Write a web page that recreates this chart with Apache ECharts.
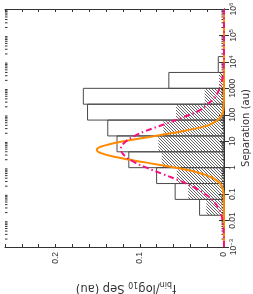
<!DOCTYPE html>
<html><head><meta charset="utf-8">
<script src="https://cdn.jsdelivr.net/npm/echarts@6/dist/echarts.min.js"></script>
<style>html,body{margin:0;padding:0;background:#fff}#c{width:253px;height:294px}</style>
</head><body><div id="c"></div>
<script>
// Histogram bins: log10 separation edges
const binLoLog = [-1.8,-1.2,-0.6,0,0.6,1.2,1.8,2.4,3.0,3.6];
const binHiLog = [-1.2,-0.6,0,0.6,1.2,1.8,2.4,3.0,3.6,4.2];
const allFrac   = [0.029,0.058,0.080,0.113,0.127,0.138,0.162,0.167,0.0655,0.0068];
const hatchFrac = [0.021,0.0425,0.056,0.074,0.078,0.072,0.057,0.023,0.006,0.001];

// Orange solid curve
const orangeLogSep = [-3,-2,-1.2,-1.0,-0.8,-0.6,-0.4,-0.2,0,0.2,0.4,0.55,0.67,0.8,1.0,1.2,1.4,1.6,1.8,2.0,2.2,2.5,3,4,5,6];
const orangeVal    = [0,0,0.0001,0.0004,0.0014,0.0046,0.0126,0.029,0.057,0.0935,0.129,0.146,0.151,0.1456,0.119,0.082,0.046,0.019,0.0075,0.0025,0.0007,0.0001,0,0,0,0];

// Pink dash-dot curve
const pinkLogSep = [-3,-2.5,-2,-1.75,-1.5,-1.25,-1,-0.75,-0.5,-0.25,0,0.2,0.45,0.7,0.95,1.2,1.4,1.65,1.9,2.15,2.4,2.65,2.9,3.4,3.9,4.4,5,6];
const pinkVal    = [0.00004,0.0003,0.0017,0.0035,0.007,0.013,0.022,0.035,0.052,0.072,0.092,0.106,0.118,0.1226,0.118,0.106,0.092,0.070,0.049,0.030,0.0195,0.011,0.0065,0.0017,0.0003,0.00004,0,0];

// Tick labels and titles
const fracTickLabels = {'0':'0','0.1':'0.1','0.2':'0.2'};
const sepTickLabels = {'-3':'{b|10}{s|\u22123}','-2':'0.01','-1':'0.1','0':'1','1':'10','2':'100','3':'1000','4':'{b|10}{s|4}','5':'{b|10}{s|5}','6':'{b|10}{s|6}'};
const sepTitle = 'Separation (au)';
const fracTitle = '{b|f}{s|bin}{b|/log}{s|10}{b| Sep (au)}';

const FONT = 'Liberation Sans, Arial, sans-serif';
const TFONT = 'DejaVu Sans, sans-serif';
const INK = '#333';

// hatch pattern
const pc = document.createElement('canvas'); pc.width = 3; pc.height = 3;
const pctx = pc.getContext('2d'); pctx.fillStyle = '#666';
for (let i = 0; i < 3; i++) pctx.fillRect(i, i, 1, 1);
const hatch = {image: pc, repeat: 'repeat'};

const p10 = v => Math.pow(10, v);
const barData = binLoLog.map((lo, i) => [p10(lo), p10(binHiLog[i]), allFrac[i]]);
const hatchData = binLoLog.map((lo, i) => [p10(lo), p10(binHiLog[i]), hatchFrac[i]]);
const minorData = [];
for (let k = -3; k < 6; k++) for (let m = 2; m <= 9; m++) minorData.push([m * p10(k)]);

function rectItem(fillStyle, strokeStyle) {
  return function (params, api) {
    const a = api.coord([0, api.value(1)]);
    const b = api.coord([api.value(2), api.value(0)]);
    return {type: 'rect', shape: {x: Math.min(a[0], b[0]), y: a[1], width: Math.abs(b[0] - a[0]), height: b[1] - a[1]},
      style: {fill: fillStyle, stroke: strokeStyle, lineWidth: 1}};
  };
}

const chart = echarts.init(document.getElementById('c'));
const xBase = {type: 'value', min: 0, max: 0.26, interval: 0.02, inverse: true,
  axisLine: {lineStyle: {color: INK}}, splitLine: {show: false},
  axisTick: {inside: true, length: 3, lineStyle: {color: INK}}};
const yBase = {type: 'log', logBase: 10, min: 1e-3, max: 1e6, splitNumber: 9,
  axisLine: {lineStyle: {color: INK}}, splitLine: {show: false}, minorTick: {show: false},
  axisTick: {inside: true, length: 5, lineStyle: {color: INK}}};

chart.setOption({
  animation: false,
  grid: {left: 5, top: 9, width: 219, height: 238, containLabel: false, outerBoundsMode: 'none'},
  xAxis: [
    Object.assign({}, xBase, {position: 'bottom',
      axisLabel: {rotate: 90, margin: 5, fontSize: 8.5, fontFamily: FONT, color: INK,
        formatter: v => { const key = String(Math.round(v * 10) / 10); return Math.abs(v - Math.round(v * 10) / 10) < 1e-6 && fracTickLabels[key] ? fracTickLabels[key] : ''; }}}),
    Object.assign({}, xBase, {position: 'top', axisLabel: {show: false}})
  ],
  yAxis: [
    Object.assign({}, yBase, {position: 'right',
      axisLabel: {rotate: 90, margin: 4, fontSize: 8.5, fontFamily: FONT, color: INK,
        formatter: v => sepTickLabels[String(Math.round(Math.log10(v)))] || '',
        rich: {b: {fontSize: 8.5, fontFamily: FONT, color: INK, lineHeight: 12},
               s: {fontSize: 6, fontFamily: FONT, color: INK, verticalAlign: 'top'}}}}),
    Object.assign({}, yBase, {position: 'left', axisLabel: {show: false}})
  ],
  graphic: [
    {type: 'text', x: 246.5, y: 128, rotation: Math.PI / 2,
      style: {text: sepTitle, align: 'center', verticalAlign: 'middle', fill: INK, fontSize: 10, fontFamily: TFONT}},
    {type: 'text', x: 126, y: 288, rotation: Math.PI,
      style: {text: fracTitle, align: 'center', verticalAlign: 'middle', fill: INK,
        rich: {b: {fontSize: 11.5, fontFamily: TFONT, fill: INK, lineHeight: 15},
               s: {fontSize: 8, fontFamily: TFONT, fill: INK, verticalAlign: 'bottom'}}}}],
  series: [
    {type: 'custom', name: 'hatched', data: hatchData, encode: {x: 2, y: [0, 1]}, z: 1, clip: true,
      renderItem: rectItem(hatch, null)},
    {type: 'custom', name: 'all', data: barData, encode: {x: 2, y: [0, 1]}, z: 2, clip: true,
      renderItem: rectItem('none', '#4a4a4a')},
    {type: 'custom', name: 'minorTicks', data: minorData, encode: {y: 0}, z: 3, clip: false, silent: true,
      renderItem: function (params, api) {
        const l = api.coord([0.26, api.value(0)]);
        const r = api.coord([0, api.value(0)]);
        return {type: 'group', children: [
          {type: 'line', shape: {x1: l[0], y1: l[1], x2: l[0] + 2.5, y2: l[1]}, style: {stroke: INK, lineWidth: 1}},
          {type: 'line', shape: {x1: r[0], y1: r[1], x2: r[0] - 2.5, y2: r[1]}, style: {stroke: INK, lineWidth: 1}}
        ]};
      }},
    {type: 'line', name: 'orange', data: orangeLogSep.map((l, i) => [orangeVal[i], p10(l)]),
      showSymbol: false, smooth: 0.4, clip: false, z: 4,
      lineStyle: {color: '#ff8a00', width: 2}},
    {type: 'line', name: 'pink', data: pinkLogSep.map((l, i) => [pinkVal[i], p10(l)]),
      showSymbol: false, smooth: 0.4, clip: false, z: 5,
      lineStyle: {color: '#f5127f', width: 2, type: [6, 3, 1.5, 3]}}
  ]
});
</script></body></html>
